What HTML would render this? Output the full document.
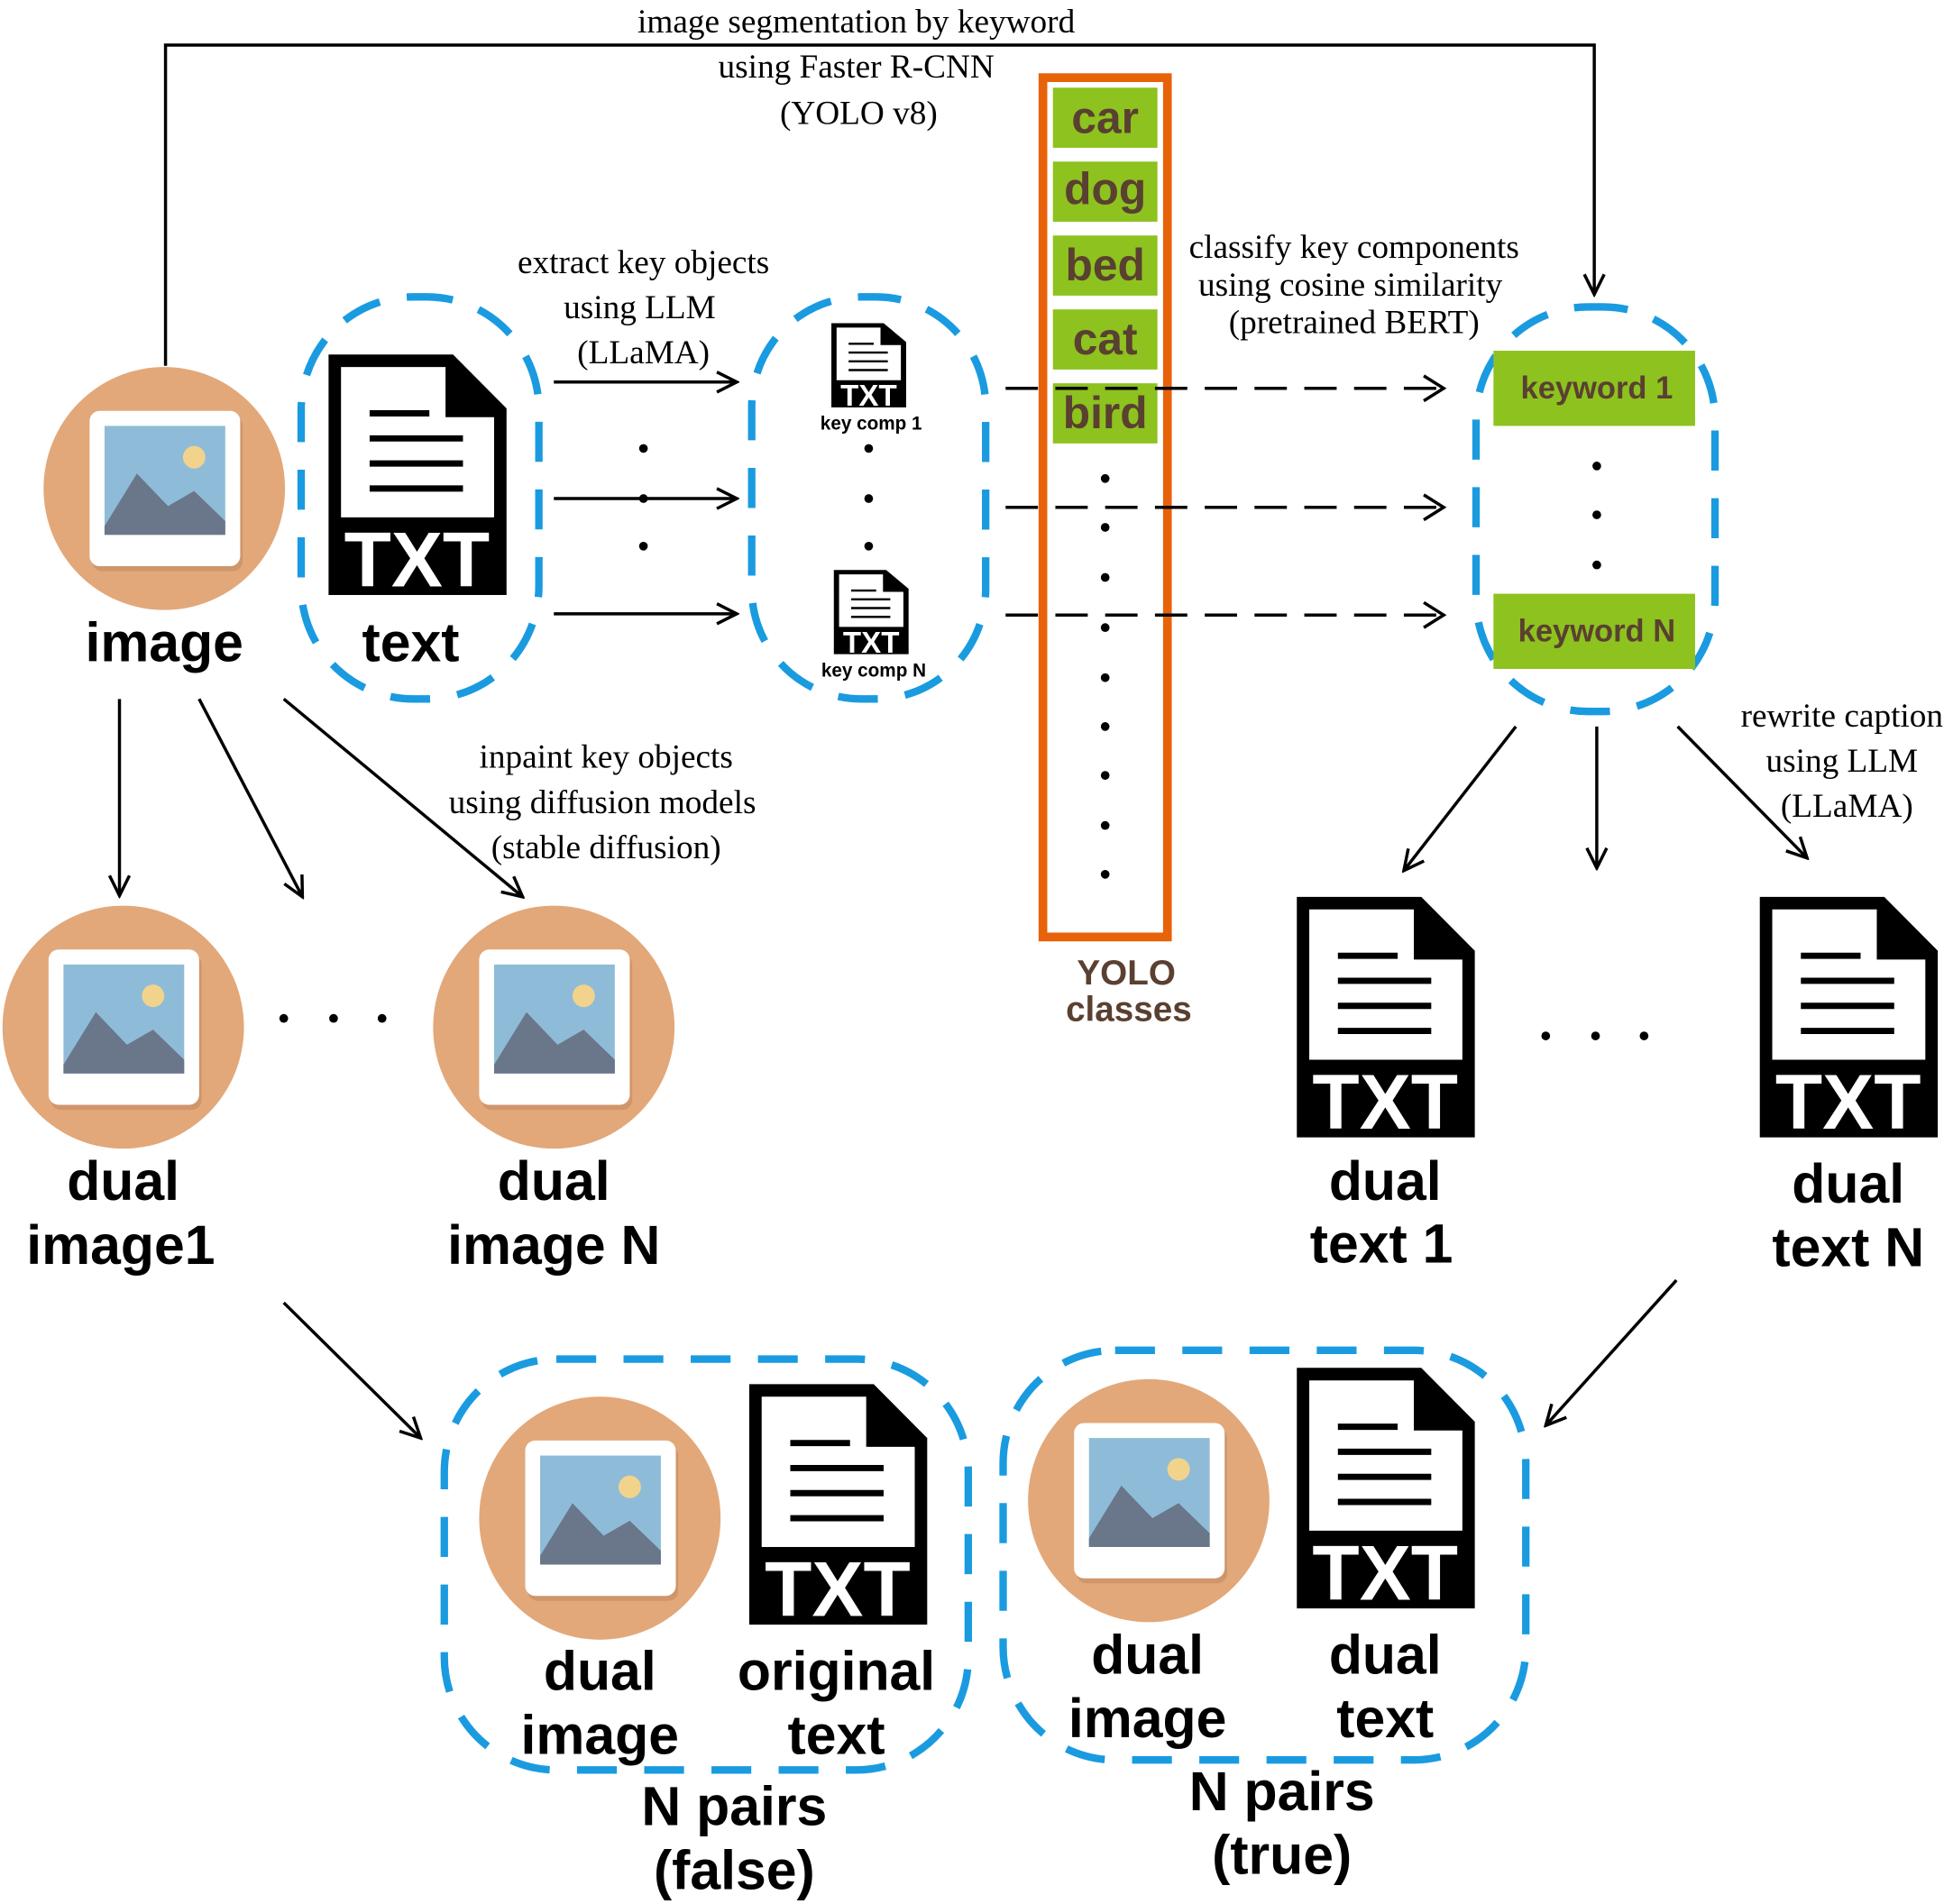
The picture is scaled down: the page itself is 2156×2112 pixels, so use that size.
<!DOCTYPE html>
<html><head><meta charset="utf-8"><style>
html,body{margin:0;padding:0;background:#fff;}
svg{display:block;}
.s{font-family:"Liberation Serif",serif;font-size:27px;fill:#000;text-anchor:middle;}
.b{font-family:"Liberation Sans",sans-serif;font-weight:bold;font-size:44px;fill:#000;text-anchor:middle;}
.t{font-family:"Liberation Sans",sans-serif;font-weight:bold;font-size:62px;fill:#fff;text-anchor:middle;}
.g{font-family:"Liberation Sans",sans-serif;font-weight:bold;font-size:36px;fill:#5a4030;text-anchor:middle;}
.k{font-family:"Liberation Sans",sans-serif;font-weight:bold;font-size:25px;fill:#5a4030;text-anchor:middle;}
.d{fill:none;stroke:#1a9be0;stroke-width:6;stroke-dasharray:32 22;}
.a{fill:none;stroke:#000;stroke-width:2.5;}
</style></head><body>
<svg width="2156" height="2112" viewBox="0 0 1562 1520" preserveAspectRatio="none" xmlns="http://www.w3.org/2000/svg">
<defs>
<marker id="ar" viewBox="0 0 20 20" refX="18" refY="10" markerWidth="20" markerHeight="20" markerUnits="userSpaceOnUse" orient="auto">
<path d="M2,2 L18,10 L2,18" fill="none" stroke="#000" stroke-width="2.5"/></marker>
<g id="img">
<circle cx="0" cy="0" r="97" fill="#e2a87a"/>
<rect x="-58" y="-58" width="121" height="124" rx="8" fill="#c48a60" opacity="0.6"/>
<rect x="-60" y="-62" width="121" height="124" rx="8" fill="#fff"/>
<rect x="-48" y="-50" width="97" height="87" fill="#8ebcd8"/>
<path d="M-48,30 L-22,-12 L3,14 L24,2 L49,26 L49,37 L-48,37 Z" fill="#6a7689"/>
<circle cx="24" cy="-25" r="9" fill="#f2d38c"/>
</g>
<g id="txt">
<path d="M0,0 H100 L143,43 V192 H0 Z" fill="#000"/>
<path d="M10,10 H94 V50 H133 V130 H10 Z" fill="#fff"/>
<path d="M33,47 H81 M33,67 H108 M33,87 H108 M33,107 H108" stroke="#000" stroke-width="5"/>
</g>
</defs>

<!-- top connector -->
<path class="a" d="M133,292 V36 H1281 V235" marker-end="url(#ar)"/>
<text class="s" x="688" y="26">image segmentation by keyword</text>
<text class="s" x="688" y="62">using Faster R-CNN</text>
<text class="s" x="690" y="99">(YOLO v8)</text>

<!-- image -->
<use href="#img" x="132" y="390"/>
<text class="b" x="132" y="528">image</text>

<!-- text -->
<rect class="d" x="242" y="237" width="191" height="321" rx="90"/>
<use href="#txt" x="264" y="283"/>
<text class="t" x="335" y="468">TXT</text>
<text class="b" x="330" y="528">text</text>

<text class="s" x="517" y="218">extract key objects</text>
<text class="s" x="514" y="254">using LLM</text>
<text class="s" x="517" y="290">(LLaMA)</text>
<line class="a" x1="445" y1="305" x2="592" y2="305" marker-end="url(#ar)"/>
<line class="a" x1="445" y1="398" x2="592" y2="398" marker-end="url(#ar)"/>
<line class="a" x1="445" y1="490" x2="592" y2="490" marker-end="url(#ar)"/>
<g fill="#000"><circle cx="517" cy="358" r="3.5"/><circle cx="517" cy="398" r="3.5"/><circle cx="517" cy="436" r="3.5"/>
<circle cx="698" cy="358" r="3.5"/><circle cx="698" cy="398" r="3.5"/><circle cx="698" cy="436" r="3.5"/></g>

<!-- key comps -->
<rect class="d" x="604" y="237" width="188" height="321" rx="88"/>
<use href="#txt" transform="translate(668,258) scale(0.42,0.35)"/>
<text class="t" style="font-size:24px" x="698" y="324">TXT</text>
<text class="k" style="font-size:15px;fill:#000" x="700" y="343">key comp 1</text>
<use href="#txt" transform="translate(670,455) scale(0.42,0.35)"/>
<text class="t" style="font-size:24px" x="700" y="521">TXT</text>
<text class="k" style="font-size:15px;fill:#000" x="702" y="540">key comp N</text>

<!-- YOLO -->
<rect x="838" y="62" width="100" height="686" fill="none" stroke="#e8620a" stroke-width="7"/>
<g fill="#8dc21f">
<rect x="846" y="70" width="84" height="48"/><rect x="846" y="129" width="84" height="48"/>
<rect x="846" y="188" width="84" height="48"/><rect x="846" y="247" width="84" height="48"/>
<rect x="846" y="306" width="84" height="48"/></g>
<text class="g" x="888" y="106">car</text>
<text class="g" x="888" y="163">dog</text>
<text class="g" x="888" y="224">bed</text>
<text class="g" x="888" y="283">cat</text>
<text class="g" x="888" y="342">bird</text>
<g fill="#000"><circle cx="888" cy="382" r="3.5"/><circle cx="888" cy="421" r="3.5"/><circle cx="888" cy="461" r="3.5"/><circle cx="888" cy="501" r="3.5"/><circle cx="888" cy="541" r="3.5"/><circle cx="888" cy="580" r="3.5"/><circle cx="888" cy="619" r="3.5"/><circle cx="888" cy="659" r="3.5"/><circle cx="888" cy="698" r="3.5"/></g>
<text class="g" style="font-size:28px" x="905" y="786">YOLO</text>
<text class="g" style="font-size:28px" x="907" y="815">classes</text>

<g stroke="#000" stroke-width="2.5" stroke-dasharray="26 14">
<line x1="808" y1="310" x2="1158" y2="310"/><line x1="808" y1="405" x2="1158" y2="405"/><line x1="808" y1="491" x2="1158" y2="491"/></g>
<path class="a" d="M1144,300 L1160,310 L1144,320 M1144,395 L1160,405 L1144,415 M1144,481 L1160,491 L1144,501"/>

<text class="s" x="1088" y="206">classify key components</text>
<text class="s" x="1085" y="236">using cosine similarity</text>
<text class="s" x="1088" y="266">(pretrained BERT)</text>

<!-- keywords -->
<rect class="d" x="1186" y="245" width="192" height="323" rx="90"/>
<rect x="1200" y="280" width="162" height="60" fill="#8dc21f"/>
<rect x="1200" y="474" width="162" height="60" fill="#8dc21f"/>
<text class="k" x="1283" y="318">keyword 1</text>
<text class="k" x="1283" y="512">keyword N</text>
<g fill="#000"><circle cx="1283" cy="372" r="3.5"/><circle cx="1283" cy="411" r="3.5"/><circle cx="1283" cy="451" r="3.5"/></g>

<line class="a" x1="1218" y1="580" x2="1128" y2="695" marker-end="url(#ar)"/>
<line class="a" x1="1283" y1="580" x2="1283" y2="693" marker-end="url(#ar)"/>
<line class="a" x1="1348" y1="580" x2="1452" y2="685" marker-end="url(#ar)"/>
<text class="s" x="1480" y="580">rewrite caption</text>
<text class="s" x="1480" y="616">using LLM</text>
<text class="s" x="1484" y="652">(LLaMA)</text>

<!-- image arrows -->
<line class="a" x1="96" y1="558" x2="96" y2="715" marker-end="url(#ar)"/>
<line class="a" x1="160" y1="558" x2="243" y2="716" marker-end="url(#ar)"/>
<line class="a" x1="228" y1="558" x2="420" y2="716" marker-end="url(#ar)"/>
<text class="s" x="487" y="613">inpaint key objects</text>
<text class="s" x="484" y="649">using diffusion models</text>
<text class="s" x="487" y="685">(stable diffusion)</text>

<use href="#img" x="99" y="820"/>
<use href="#img" x="445" y="820"/>
<g fill="#000"><circle cx="228" cy="813" r="3.5"/><circle cx="268" cy="813" r="3.5"/><circle cx="307" cy="813" r="3.5"/>
<circle cx="1242" cy="827" r="3.5"/><circle cx="1282" cy="827" r="3.5"/><circle cx="1321" cy="827" r="3.5"/></g>
<text class="b" x="99" y="958">dual</text>
<text class="b" x="97" y="1009">image1</text>
<text class="b" x="445" y="958">dual</text>
<text class="b" x="445" y="1009">image N</text>

<use href="#txt" x="1042" y="716"/>
<text class="t" x="1113" y="901">TXT</text>
<use href="#txt" x="1414" y="716"/>
<text class="t" x="1485" y="901">TXT</text>
<text class="b" x="1113" y="958">dual</text>
<text class="b" x="1110" y="1008">text 1</text>
<text class="b" x="1485" y="960">dual</text>
<text class="b" x="1485" y="1011">text N</text>

<line class="a" x1="228" y1="1040" x2="338" y2="1148" marker-end="url(#ar)"/>
<line class="a" x1="1347" y1="1022" x2="1242" y2="1138" marker-end="url(#ar)"/>

<!-- false pairs -->
<rect class="d" x="357" y="1085" width="421" height="328" rx="90"/>
<use href="#img" x="482" y="1212"/>
<use href="#txt" x="602" y="1105"/>
<text class="t" x="673" y="1290">TXT</text>
<text class="b" x="482" y="1349">dual</text>
<text class="b" x="482" y="1400">image</text>
<text class="b" x="672" y="1349">original</text>
<text class="b" x="672" y="1400">text</text>
<text class="b" x="590" y="1457">N pairs</text>
<text class="b" x="590" y="1508">(false)</text>

<!-- true pairs -->
<rect class="d" x="806" y="1078" width="420" height="327" rx="90"/>
<use href="#img" x="923" y="1198"/>
<use href="#txt" x="1042" y="1092"/>
<text class="t" x="1113" y="1277">TXT</text>
<text class="b" x="922" y="1336">dual</text>
<text class="b" x="922" y="1387">image</text>
<text class="b" x="1113" y="1336">dual</text>
<text class="b" x="1113" y="1387">text</text>
<text class="b" x="1030" y="1445">N pairs</text>
<text class="b" x="1030" y="1496">(true)</text>
</svg>
</body></html>
